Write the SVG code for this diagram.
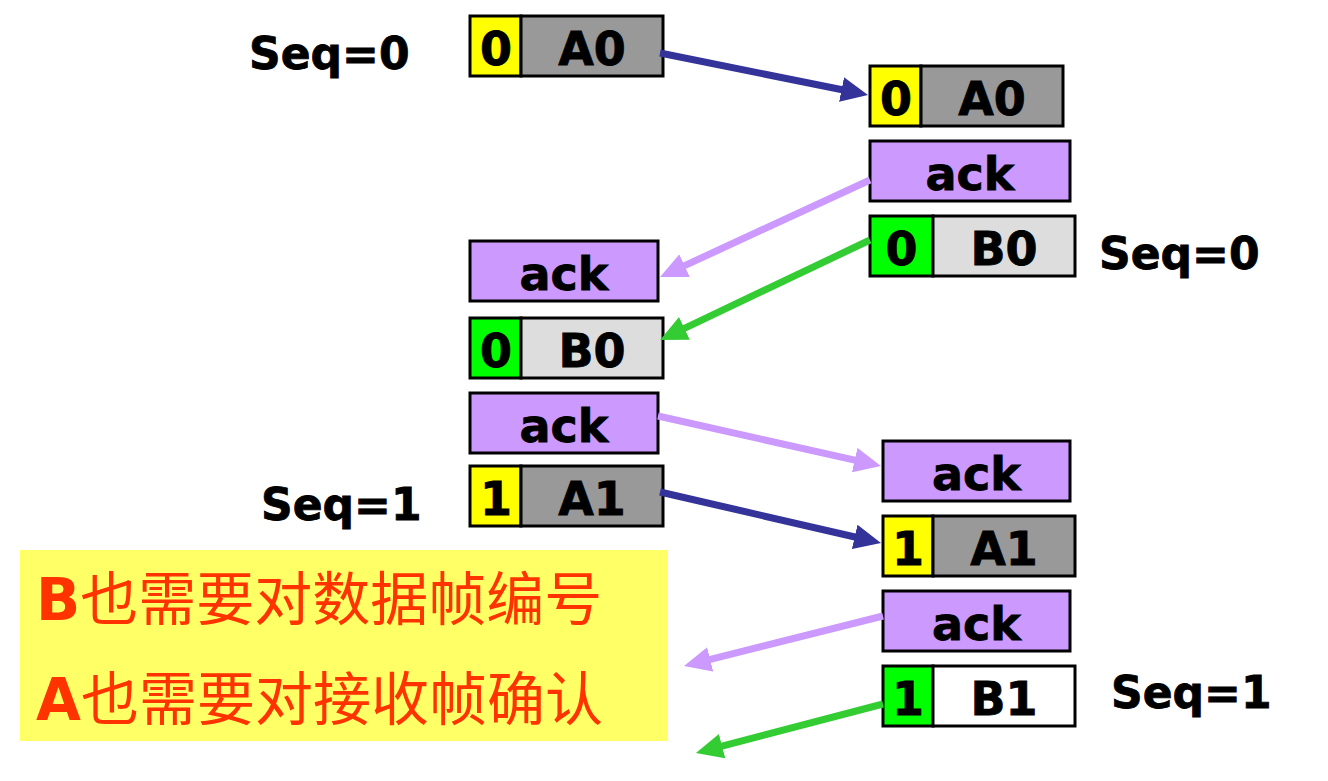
<svg xmlns="http://www.w3.org/2000/svg" width="1328" height="781" viewBox="0 0 1328 781">
<style>
.bx{stroke:#000;stroke-width:3}
.y{fill:#FFFF00}.g{fill:#999999}.gr{fill:#00FF00}.lg{fill:#DDDDDD}.w{fill:#FFFFFF}.p{fill:#CC99FF}
.t{font-family:"DejaVu Sans",Verdana,sans-serif;font-weight:bold;font-size:46px;fill:#000;stroke:#000;stroke-width:0.8;text-anchor:middle}
.s{font-family:"DejaVu Sans",Verdana,sans-serif;font-weight:bold;font-size:44px;fill:#000;stroke:#000;stroke-width:0.8}
.n{font-family:"Noto Sans CJK SC",sans-serif;font-size:58px;fill:#FF3300}
.nb{font-family:"DejaVu Sans",Verdana,sans-serif;font-weight:bold}
.nv{stroke:#333399;stroke-width:7;fill:none}
.lv{stroke:#CC99FF;stroke-width:7;fill:none}
.gn{stroke:#33CC33;stroke-width:7;fill:none}
</style>
<defs>
<marker id="mN" viewBox="0 0 27 25" refX="7" refY="12.5" markerWidth="27" markerHeight="25" orient="auto" markerUnits="userSpaceOnUse"><path d="M0,0 L27,12.5 L0,25 z" fill="#333399"/></marker>
<marker id="mL" viewBox="0 0 27 25" refX="7" refY="12.5" markerWidth="27" markerHeight="25" orient="auto" markerUnits="userSpaceOnUse"><path d="M0,0 L27,12.5 L0,25 z" fill="#CC99FF"/></marker>
<marker id="mG" viewBox="0 0 27 25" refX="7" refY="12.5" markerWidth="27" markerHeight="25" orient="auto" markerUnits="userSpaceOnUse"><path d="M0,0 L27,12.5 L0,25 z" fill="#33CC33"/></marker>
</defs>
<rect width="1328" height="781" fill="#FFFFFF"/>

<g id="note">
<rect x="20" y="550" width="648" height="191" fill="#FFFF66"/>
<text class="n" x="36" y="620"><tspan class="nb">B</tspan>也需要对数据帧编号</text>
<text class="n" x="36" y="720"><tspan class="nb">A</tspan>也需要对接收帧确认</text>
</g>

<g id="labels">
<text class="s" x="249" y="69">Seq=0</text>
<text class="s" x="1099" y="269">Seq=0</text>
<text class="s" x="261" y="520">Seq=1</text>
<text class="s" x="1111" y="708">Seq=1</text>
</g>

<g id="a0-left">
<rect class="bx y" x="470" y="16" width="51" height="60"/>
<rect class="bx g" x="521" y="16" width="142" height="60"/>
<text class="t" x="496" y="65">0</text><text class="t" x="592" y="65">A0</text>
</g>
<g id="a0-right">
<rect class="bx y" x="870" y="66" width="51" height="60"/>
<rect class="bx g" x="921" y="66" width="142" height="60"/>
<text class="t" x="896" y="115">0</text><text class="t" x="992" y="115">A0</text>
</g>
<g id="ack-r1">
<rect class="bx p" x="870" y="141" width="200" height="60"/>
<text class="t" x="970" y="190">ack</text>
</g>
<g id="b0-right">
<rect class="bx gr" x="870" y="216" width="63" height="60"/>
<rect class="bx lg" x="933" y="216" width="142" height="60"/>
<text class="t" x="901.5" y="265">0</text><text class="t" x="1004" y="265">B0</text>
</g>
<g id="ack-l1">
<rect class="bx p" x="470" y="241" width="188" height="60"/>
<text class="t" x="564" y="290">ack</text>
</g>
<g id="b0-left">
<rect class="bx gr" x="470" y="318" width="51" height="60"/>
<rect class="bx lg" x="521" y="318" width="142" height="60"/>
<text class="t" x="496" y="367">0</text><text class="t" x="592" y="367">B0</text>
</g>
<g id="ack-l2">
<rect class="bx p" x="470" y="393" width="188" height="60"/>
<text class="t" x="564" y="442">ack</text>
</g>
<g id="a1-left">
<rect class="bx y" x="470" y="466" width="51" height="60"/>
<rect class="bx g" x="521" y="466" width="142" height="60"/>
<text class="t" x="496" y="515">1</text><text class="t" x="592" y="515">A1</text>
</g>
<g id="ack-r2">
<rect class="bx p" x="883" y="441" width="187" height="60"/>
<text class="t" x="976.5" y="490">ack</text>
</g>
<g id="a1-right">
<rect class="bx y" x="883" y="516" width="50" height="60"/>
<rect class="bx g" x="933" y="516" width="142" height="60"/>
<text class="t" x="908" y="565">1</text><text class="t" x="1004" y="565">A1</text>
</g>
<g id="ack-r3">
<rect class="bx p" x="883" y="591" width="187" height="60"/>
<text class="t" x="976.5" y="640">ack</text>
</g>
<g id="b1-right">
<rect class="bx gr" x="883" y="666" width="50" height="60"/>
<rect class="bx w" x="933" y="666" width="142" height="60"/>
<text class="t" x="908" y="715">1</text><text class="t" x="1004" y="715">B1</text>
</g>

<g id="connectors">
<line class="nv" x1="660" y1="53" x2="848.4" y2="91" marker-end="url(#mN)"/>
<line class="lv" x1="870" y1="180" x2="678.2" y2="268.6" marker-end="url(#mL)"/>
<line class="gn" x1="870" y1="240" x2="678.1" y2="331.4" marker-end="url(#mG)"/>
<line class="lv" x1="658" y1="416" x2="861.5" y2="461.6" marker-end="url(#mL)"/>
<line class="nv" x1="660" y1="492" x2="861.5" y2="538.5" marker-end="url(#mN)"/>
<line class="lv" x1="883" y1="616" x2="703.4" y2="661.1" marker-end="url(#mL)"/>
<line class="gn" x1="883" y1="704" x2="715.3" y2="747.9" marker-end="url(#mG)"/>
</g>
</svg>
